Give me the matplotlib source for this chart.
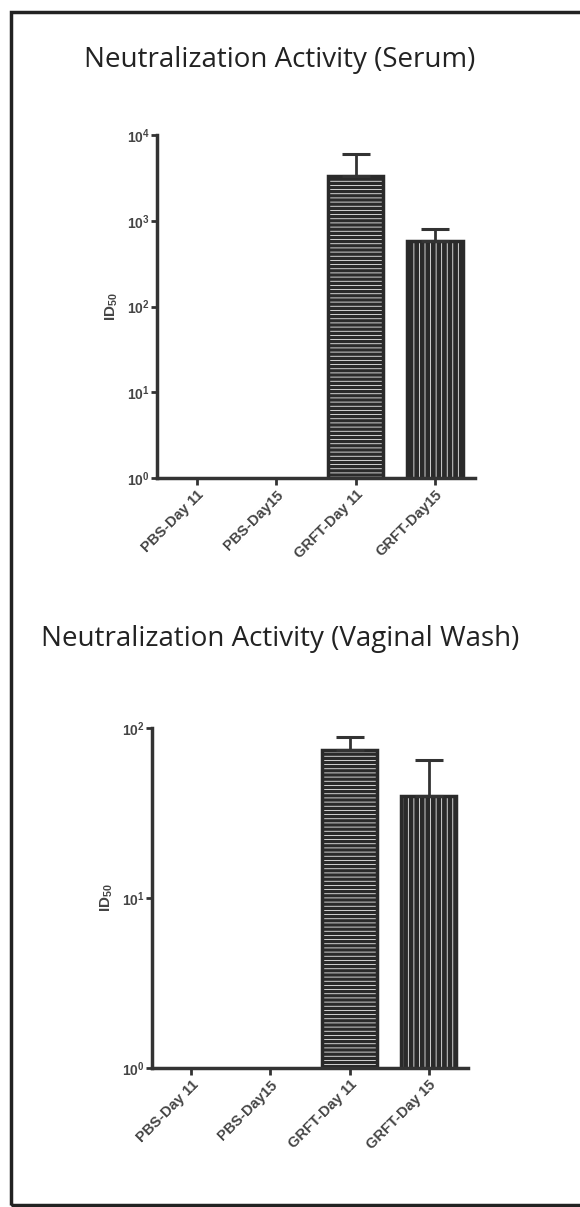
import numpy as np
import matplotlib
matplotlib.use('Agg')
import matplotlib.pyplot as plt
from matplotlib.patches import Rectangle
from matplotlib.ticker import NullLocator, FixedLocator

# serum panel
serum_groups = ['PBS-Day 11', 'PBS-Day15', 'GRFT-Day 11', 'GRFT-Day15']
serum_id50 = [0, 0, 3300, 590]
serum_upper = [0, 0, 6000, 810]
serum_ticks = [r'$\mathbf{10^{0}}$', r'$\mathbf{10^{1}}$', r'$\mathbf{10^{2}}$',
               r'$\mathbf{10^{3}}$', r'$\mathbf{10^{4}}$']

# vaginal wash panel
wash_groups = ['PBS-Day 11', 'PBS-Day15', 'GRFT-Day 11', 'GRFT-Day 15']
wash_id50 = [0, 0, 74, 40]
wash_upper = [0, 0, 88, 65]
wash_ticks = [r'$\mathbf{10^{0}}$', r'$\mathbf{10^{1}}$', r'$\mathbf{10^{2}}$']

hatches = ['', '', '----', '|||']

DARK = '#2a2a2a'
AXIS = '#333333'
TEXT = '#444444'

plt.rcParams['mathtext.fontset'] = 'custom'
plt.rcParams['mathtext.rm'] = 'Liberation Sans:bold'
plt.rcParams['mathtext.bf'] = 'Liberation Sans:bold'
plt.rcParams['mathtext.default'] = 'bf'
plt.rcParams['hatch.linewidth'] = 0.55


def draw_panel(ax, groups, vals, upper, ticklabels):
    x = np.arange(len(groups))
    vals = np.array(vals, dtype=float)
    upper = np.array(upper, dtype=float)

    # dark bars with white hatch lines, then a dark outline on top
    bars = ax.bar(x, vals, width=0.7, color=DARK, edgecolor='white', linewidth=0)
    for b, h in zip(bars, hatches):
        b.set_hatch(h)
    ax.bar(x, vals, width=0.7, fill=False, edgecolor=DARK, linewidth=2.5)

    has = vals > 0
    ax.errorbar(x[has], vals[has], yerr=[np.zeros(has.sum()), upper[has] - vals[has]],
                fmt='none', ecolor=AXIS, elinewidth=2, capsize=10, capthick=2.2, zorder=1)

    top_exp = len(ticklabels) - 1
    ax.set_yscale('log')
    ax.set_ylim(1, 10 ** top_exp)
    ax.set_xlim(-0.5, 3.5)
    ax.yaxis.set_major_locator(FixedLocator([10 ** k for k in range(top_exp + 1)]))
    ax.yaxis.set_minor_locator(NullLocator())
    ax.set_yticklabels(ticklabels)

    for s in ['top', 'right']:
        ax.spines[s].set_visible(False)
    for s in ['left', 'bottom']:
        ax.spines[s].set_linewidth(2.5)
        ax.spines[s].set_color(AXIS)

    ax.tick_params(axis='y', length=4, width=2, color=AXIS, labelsize=10,
                   labelcolor=TEXT, pad=1)
    ax.tick_params(axis='x', length=5, width=2, color=AXIS, pad=2)
    ax.set_xticks(x)
    ax.set_xticklabels(groups, rotation=45, ha='right', rotation_mode='anchor',
                       fontsize=10.5, color=TEXT, family='Liberation Sans',
                       fontweight='bold')
    ax.set_ylabel(r'$\mathbf{ID_{50}}$', fontsize=11, color=TEXT, labelpad=5)


fig = plt.figure(figsize=(5.8, 12.07), dpi=100)

ax1 = fig.add_axes([0.2707, 0.604, 0.548, 0.284])
draw_panel(ax1, serum_groups, serum_id50, serum_upper, serum_ticks)

ax2 = fig.add_axes([0.262, 0.1152, 0.545, 0.2817])
draw_panel(ax2, wash_groups, wash_id50, wash_upper, wash_ticks)

fig.text(0.483, 1 - 60 / 1207, 'Neutralization Activity (Serum)', ha='center', va='center',
         fontsize=20, family='Open Sans', color='#222222')
fig.text(0.483, 1 - 639 / 1207, 'Neutralization Activity (Vaginal Wash)', ha='center',
         va='center', fontsize=20, family='Open Sans', color='#222222')

fig.patches.append(Rectangle((11 / 580, 2 / 1207), 1.2, 1193 / 1207,
                             transform=fig.transFigure, fill=False, lw=2.5,
                             ec='#222222', clip_on=False))

fig.savefig('out.png', dpi=100, facecolor='white')
